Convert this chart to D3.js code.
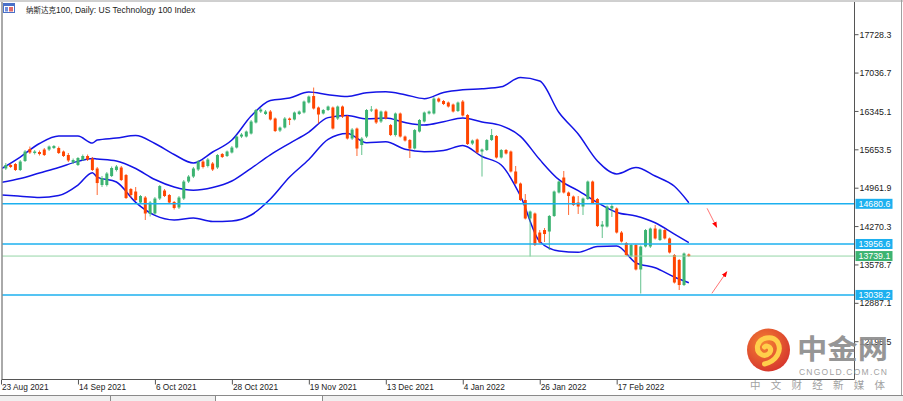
<!DOCTYPE html>
<html><head><meta charset="utf-8">
<script src="https://cdnjs.cloudflare.com/ajax/libs/d3/7.8.5/d3.min.js"></script>
<style>body{margin:0;background:#fff;overflow:hidden}svg{display:block}</style>
</head><body><svg id="c" width="903" height="401"></svg>
<script>
// ---- data ----
const openV=[15100,15317,15380,15398,15290,15452,15668,15596,15614,15659,15659,15686,15686,15623,15560,15425,15380,15470,15542,15497,
15317,15019,15019,15181,15290,15335,15199,14947,14902,14704,14794,14497,14506,14776,14920,14839,14713,14614,14776,15082,
15172,15299,15443,15362,15407,15335,15578,15542,15605,15695,15893,15893,15947,16146,16344,16299,16344,16218,16001,16055,
16218,16200,16299,16326,16506,16623,16416,16308,16371,16416,16218,16434,16263,15857,16037,15740,15893,16362,16380,16164,
16344,16100,15920,16308,15893,15830,15677,15983,16164,16308,16308,16578,16533,16506,16470,16353,16524,16281,15767,15839,
15623,15650,15830,15902,15515,15650,15623,15263,15046,14749,14416,14506,14163,14208,14181,14461,14884,15154,14884,14812,
14704,14632,14767,15082,14767,14271,14271,14596,14596,14163,13974,13731,13938,13497,13911,13911,14235,14028,14208,14056,
13758,13668,13217,13767];
const highV=[15326,15416,15407,15416,15470,15650,15713,15650,15641,15686,15731,15740,15713,15641,15596,15497,15524,15569,15569,15524,
15344,15181,15254,15353,15380,15362,15218,14965,14983,14839,14821,14731,14803,15019,14947,14857,14731,14821,15109,15199,
15344,15470,15470,15506,15434,15578,15596,15641,15722,15920,15956,16001,16191,16389,16407,16371,16371,16236,16073,16245,
16236,16344,16362,16542,16632,16776,16434,16389,16452,16434,16452,16452,16281,16046,16055,15884,16389,16443,16398,16362,
16362,16119,16326,16326,15911,15848,16028,16209,16344,16362,16605,16596,16551,16524,16488,16524,16551,16299,15839,15857,
15677,15848,16028,15920,15668,15668,15641,15362,15064,14857,14560,14524,14208,14244,14479,14920,15100,15272,14902,14830,
14821,14794,15100,15100,14785,14371,14650,14695,14614,14190,13992,13956,13956,13929,14226,14253,14299,14235,14226,14073,
13776,13686,13803,13785];
const lowV=[15073,15290,15326,15272,15272,15434,15578,15569,15551,15542,15632,15668,15578,15524,15434,15398,15362,15452,15452,15272,
14839,14983,14992,15163,15263,15091,14767,14785,14731,14677,14389,14452,14479,14749,14803,14677,14578,14587,14749,15055,
15145,15272,15317,15335,15272,15308,15506,15524,15587,15677,15866,15875,15929,16128,16317,16281,16182,15974,15974,16037,
16100,16182,16281,16308,16488,16380,16128,16290,16353,16019,16191,16227,15839,15830,15542,15560,15866,16335,16119,16137,
16200,15902,15893,15875,15803,15506,15659,15965,16146,16290,16290,16506,16461,16416,16326,16335,16254,15740,15740,15587,
15172,15632,15812,15497,15497,15569,15245,15028,14731,14398,13731,13920,13965,13992,13848,14443,14866,14866,14479,14641,
14497,14479,14749,14677,14262,14064,14253,14443,14145,13983,13740,13713,13479,13064,13893,13884,14037,14010,14037,13785,
13244,13127,13199,13722];
const closeV=[15281,15380,15344,15290,15443,15623,15605,15623,15578,15560,15713,15722,15596,15542,15461,15470,15506,15542,15479,15290,
15055,15145,15227,15326,15353,15109,14785,14839,14749,14821,14506,14704,14776,15001,14821,14704,14605,14794,15082,15172,
15317,15443,15344,15479,15299,15560,15524,15623,15695,15893,15929,15983,16164,16371,16380,16344,16200,15992,16055,16218,
16191,16326,16344,16524,16614,16398,16290,16371,16434,16037,16434,16254,15857,16019,15677,15857,16371,16380,16146,16344,
16218,15920,16308,15893,15821,15677,16010,16191,16326,16344,16578,16524,16479,16434,16344,16506,16272,15758,15821,15605,
15659,15830,15920,15515,15650,15587,15263,15046,14749,14416,14542,13938,13983,14136,14461,14902,15082,14884,14821,14659,
14632,14776,15082,14695,14280,14307,14632,14641,14163,14001,13758,13938,13497,13911,14208,14235,14056,14217,14056,13803,
13262,13217,13785,13739.1];

const bbBars=[0,4,8,12,16,19,20,24,28,32,36,40,44,48,52,56,60,64,68,72,76,80,84,88,92,96,100,104,108,112,116,120,124,128,132,136,140,143];
const bbUpper=[15308,15524,15767,15902,15902,15776,15830,15866,15911,15767,15569,15416,15614,15830,16263,16542,16587,16695,16646,16614,16681,16701,16648,16576,16686,16735,16753,16789,16956,16893,16326,15938,15452,15218,15335,15181,14996,14701];
const bbMiddle=[15064,15136,15236,15335,15445,15497,15488,15452,15317,15118,14983,14924,14974,15091,15320,15563,15771,15974,16234,16272,16212,16227,16146,16101,16160,16227,16155,16090,15897,15477,15115,14917,14702,14525,14461,14340,14136,13980];
const bbLower=[14839,14817,14794,14830,15019,15241,15163,15073,14706,14471,14389,14425,14362,14371,14479,14767,15163,15479,15843,15947,15782,15798,15663,15619,15641,15731,15533,15380,14821,14001,13830,13807,13911,13920,13616,13529,13361,13259];

const dateLabels=["23 Aug 2021","14 Sep 2021","6 Oct 2021","28 Oct 2021","19 Nov 2021","13 Dec 2021","4 Jan 2022","26 Jan 2022","17 Feb 2022"];
const dateBars=[0,16,32,48,64,80,96,112,128];
const yTicks=[17728.3,17036.7,16345.1,15653.5,14961.9,14270.3,13578.7,12887.1,12195.5];
const levelPrices=[14680.6,13956.6,13038.2];
const bidPrice=13739.1;
const arrowFromBar=[146.8,147.8], arrowFromPrice=[14599,13068];
const arrowToBar=[148.8,150.9],   arrowToPrice=[14257,13457];

// ---- layout ----
const svg=d3.select("#c");
const L=2, R=854.5, T=2, B=379.5;
const x=d3.scaleLinear().domain([0,143]).range([1,688.83]);
const y=d3.scaleLinear().domain([12195.5,17728.3]).range([341.7,34.7]);
const UP="#3cb371", DN="#ff4500", BAND="#1414e6", LVL="#1cb0ef";
const FONT="'Liberation Sans', Arial, sans-serif";

svg.append("rect").attr("width",903).attr("height",401).attr("fill","#fff");
const defs=svg.append("defs");
defs.append("clipPath").attr("id","plot").append("rect").attr("x",L+0.5).attr("y",T).attr("width",R-L-0.5).attr("height",B-T);
const mk=defs.append("marker").attr("id","ah").attr("viewBox","0 0 10 10").attr("refX",9).attr("refY",5)
  .attr("markerWidth",6).attr("markerHeight",6).attr("orient","auto-start-reverse").attr("markerUnits","userSpaceOnUse");
mk.append("path").attr("d","M0,1 L10,5 L0,9 Z").attr("fill","#ff0000");
const rg=defs.append("radialGradient").attr("id","lg").attr("cx","40%").attr("cy","35%").attr("r","70%");
rg.append("stop").attr("offset","0%").attr("stop-color","#f57a22");
rg.append("stop").attr("offset","100%").attr("stop-color","#d2231c");

const plot=svg.append("g").attr("clip-path","url(#plot)");
const idx=d3.range(openV.length);

// Bollinger bands
const bandLine=vals=>d3.line().x((d,i)=>x(bbBars[i])).y(d=>y(d)).curve(d3.curveMonotoneX)(vals);
[bbUpper,bbMiddle,bbLower].forEach(v=>{
  plot.append("path").attr("d",bandLine(v)).attr("fill","none").attr("stroke",BAND).attr("stroke-width",1.5);
});

// candles
const cg=plot.append("g");
cg.selectAll("line.w").data(idx).join("line").attr("class","w")
  .attr("x1",i=>x(i)).attr("x2",i=>x(i)).attr("y1",i=>y(highV[i])).attr("y2",i=>y(lowV[i]))
  .attr("stroke",i=>closeV[i]>=openV[i]?UP:DN).attr("stroke-width",1).attr("stroke-opacity",0.8);
cg.selectAll("rect.b").data(idx).join("rect").attr("class","b")
  .attr("x",i=>x(i)-1.5).attr("width",3)
  .attr("y",i=>y(Math.max(openV[i],closeV[i])))
  .attr("height",i=>Math.max(1,Math.abs(y(openV[i])-y(closeV[i]))))
  .attr("fill",i=>closeV[i]>=openV[i]?UP:DN);

// horizontal levels
plot.selectAll("line.lv").data(levelPrices).join("line").attr("class","lv")
  .attr("x1",L).attr("x2",R).attr("y1",d=>y(d)).attr("y2",d=>y(d)).attr("stroke",LVL).attr("stroke-width",1.4);
plot.append("line").attr("x1",L).attr("x2",R).attr("y1",y(bidPrice)).attr("y2",y(bidPrice)).attr("stroke","#94d6a6").attr("stroke-width",1);

// arrows
arrowFromBar.forEach((b,k)=>{
  plot.append("line").attr("x1",x(b)).attr("y1",y(arrowFromPrice[k])).attr("x2",x(arrowToBar[k])).attr("y2",y(arrowToPrice[k]))
    .attr("stroke","#ff5050").attr("stroke-width",0.8).attr("marker-end","url(#ah)");
});

// frame
svg.append("line").attr("x1",0).attr("x2",903).attr("y1",1).attr("y2",1).attr("stroke","#a0a0a0");
svg.append("line").attr("x1",L).attr("x2",L).attr("y1",T).attr("y2",B).attr("stroke","#555");
svg.append("line").attr("x1",R).attr("x2",R).attr("y1",T).attr("y2",B).attr("stroke","#555");
svg.append("line").attr("x1",L).attr("x2",R).attr("y1",B).attr("y2",B).attr("stroke","#555");
svg.append("line").attr("x1",901.5).attr("x2",901.5).attr("y1",0).attr("y2",395).attr("stroke","#a0a0a0");

// y axis ticks + labels
const ya=svg.append("g");
ya.selectAll("line").data(yTicks).join("line").attr("x1",R).attr("x2",R+4).attr("y1",d=>y(d)).attr("y2",d=>y(d)).attr("stroke","#555");
ya.selectAll("text").data(yTicks).join("text").attr("x",R+5).attr("y",d=>y(d)).attr("dy","0.35em")
  .attr("font-family",FONT).attr("font-size",8.8).attr("fill","#222").text(d=>d.toFixed(1));

// price label boxes
const boxes=levelPrices.map(p=>({p,c:LVL})).concat([{p:bidPrice,c:"#3cb371"}]);
const bx=svg.append("g");
bx.selectAll("rect").data(boxes).join("rect").attr("x",R+1).attr("width",37).attr("y",d=>y(d.p)-5).attr("height",10).attr("fill",d=>d.c);
bx.selectAll("text").data(boxes).join("text").attr("x",R+4).attr("y",d=>y(d.p)).attr("dy","0.35em")
  .attr("font-family",FONT).attr("font-size",8.8).attr("fill","#fff").text(d=>d.p.toFixed(1));

// x axis
const xa=svg.append("g");
xa.selectAll("line").data(dateBars).join("line").attr("x1",b=>x(b)+0.5).attr("x2",b=>x(b)+0.5).attr("y1",B).attr("y2",B+5).attr("stroke","#555");
xa.selectAll("text").data(dateBars).join("text").attr("x",b=>x(b)+1).attr("y",389.5)
  .attr("font-family",FONT).attr("font-size",8.3).attr("fill","#222").text((b,k)=>dateLabels[k]);

// title
const ic=svg.append("g");
ic.append("rect").attr("x",3.5).attr("y",3.5).attr("width",11).attr("height",9).attr("fill","#fff").attr("stroke","#4a70c8");
ic.append("rect").attr("x",4).attr("y",4).attr("width",10).attr("height",2).attr("fill","#4a70c8");
ic.append("rect").attr("x",5).attr("y",7).attr("width",3).attr("height",4.5).attr("fill","#6f8fdc");
ic.append("rect").attr("x",9).attr("y",7).attr("width",4).attr("height",4.5).attr("fill","#e06a6a");
const tt=svg.append("text").attr("x",26).attr("y",12.5).attr("font-family",FONT).attr("font-size",8.5).attr("fill","#222");
tt.append("tspan").attr("font-family","'Noto Sans CJK SC'").attr("font-size",7.5).text("纳斯达克");
tt.append("tspan").text("100, Daily:  US Technology 100 Index");

// bottom tab bar
svg.append("rect").attr("x",0).attr("y",395).attr("width",903).attr("height",6).attr("fill","#f0f0f0");
svg.append("line").attr("x1",0).attr("x2",903).attr("y1",395.5).attr("y2",395.5).attr("stroke","#8a8a8a");
svg.append("rect").attr("x",215).attr("y",396).attr("width",107).attr("height",5).attr("fill","#fff");
[110,215,322].forEach(v=>svg.append("line").attr("x1",v+0.5).attr("x2",v+0.5).attr("y1",395.5).attr("y2",401).attr("stroke","#8a8a8a"));

// watermark logo
const lg=svg.append("g").attr("opacity",0.92);
lg.append("circle").attr("cx",768.5).attr("cy",350).attr("r",21.5).attr("fill","url(#lg)");
lg.append("path").attr("transform","translate(768.5,350)")
  .attr("d","M-4,14 C8,11 14,1 9,-8 C4,-15 -9,-13 -11,-4 C-12,4 -4,8 1,3 C4,-1 0,-6 -4,-3")
  .attr("fill","none").attr("stroke","#ffcb3c").attr("stroke-width",5).attr("stroke-linecap","round");
lg.append("text").attr("x",797).attr("y",359).attr("font-family","'Noto Sans CJK SC'").attr("font-weight","bold")
  .attr("font-size",27).attr("fill","#8e8e8e").attr("textLength",91).attr("lengthAdjust","spacingAndGlyphs").text("中金网");
lg.append("text").attr("x",799).attr("y",375).attr("font-family",FONT).attr("font-size",8.5)
  .attr("fill","#9a9a9a").attr("textLength",88).attr("lengthAdjust","spacing").text("CNGOLD.COM.CN");
lg.append("text").attr("x",750).attr("y",388.5).attr("font-family","'Noto Sans CJK SC'").attr("font-size",10.5)
  .attr("fill","#9a9a9a").attr("textLength",135).attr("lengthAdjust","spacing").text("中文财经新媒体");
</script></body></html>
